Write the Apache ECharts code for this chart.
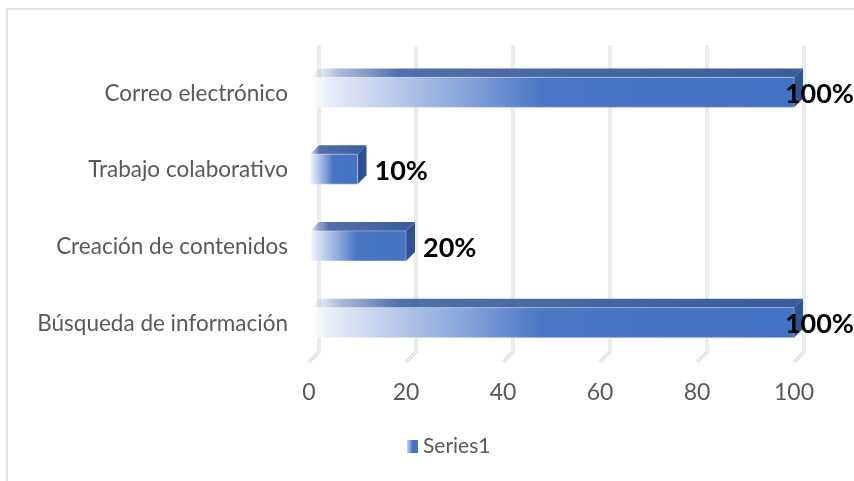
<!DOCTYPE html>
<html>
<head>
<meta charset="utf-8">
<script src="https://cdn.jsdelivr.net/npm/echarts@6/dist/echarts.min.js"></script>
<style>
  html, body { margin: 0; padding: 0; background: #ffffff; }
  #chart { width: 854px; height: 481px; }
</style>
</head>
<body>
<div id="chart"></div>
<script>
// Uso de herramientas digitales
const categories = ['Correo electrónico', 'Trabajo colaborativo', 'Creación de contenidos', 'Búsqueda de información'];
const values = [100, 10, 20, 100];
const ticks = [0, 20, 40, 60, 80, 100];
const seriesName = 'Series1';

const FONT = 'Lato, "Open Sans", sans-serif';
const DEPTH = 9;       // bar depth (3D offset)
const WALL = 10;       // offset from front plane to back wall
const BAR_H = 30;      // front face height

const measureCtx = document.createElement('canvas').getContext('2d');
function textWidth(str, font) {
  measureCtx.font = font;
  return measureCtx.measureText(str).width;
}

const frontGradient = new echarts.graphic.LinearGradient(0, 0, 1, 0, [
  { offset: 0, color: 'rgba(255,255,255,0.7)' },
  { offset: 0.04, color: '#e8eef8' },
  { offset: 0.2, color: '#b0c3e7' },
  { offset: 0.34, color: '#7f9fd8' },
  { offset: 0.48, color: '#4a76c5' },
  { offset: 1, color: '#4472c4' }
]);
const topGradient = new echarts.graphic.LinearGradient(0, 0, 1, 0, [
  { offset: 0, color: 'rgba(70,105,170,0)' },
  { offset: 0.06, color: 'rgba(70,105,170,0.45)' },
  { offset: 0.18, color: 'rgba(62,96,160,0.9)' },
  { offset: 1, color: '#3a5c9c' }
]);
const legendGradient = new echarts.graphic.LinearGradient(0, 0, 1, 0, [
  { offset: 0, color: '#c9d6ef' },
  { offset: 0.5, color: '#4472c4' },
  { offset: 1, color: '#4472c4' }
]);

const chart = echarts.init(document.getElementById('chart'), null, { renderer: 'canvas' });

chart.setOption({
  animation: false,
  backgroundColor: '#ffffff',
  graphic: [{
    type: 'rect',
    shape: { x: 7, y: 9, width: 900, height: 500 },
    style: { fill: 'none', stroke: '#d9d9d9', lineWidth: 1.5 },
    silent: true
  }],
  grid: { left: 309, right: 60, top: 55, bottom: 119 },
  legend: {
    data: [{ name: seriesName, icon: 'rect' }],
    left: 402,
    top: 431,
    itemWidth: 11,
    itemHeight: 13,
    itemGap: 4,
    textStyle: { color: '#595959', fontSize: 21, fontFamily: FONT }
  },
  xAxis: {
    type: 'value',
    min: 0,
    max: 100,
    interval: 20,
    axisLine: { show: false },
    axisTick: { show: false },
    splitLine: { show: false },
    axisLabel: { color: '#595959', fontSize: 23, fontFamily: FONT, margin: 19 }
  },
  yAxis: {
    type: 'category',
    data: categories,
    inverse: true,
    axisLine: { show: false },
    axisTick: { show: false },
    splitLine: { show: false },
    axisLabel: { color: '#595959', fontSize: 22.5, fontFamily: FONT, margin: 21 }
  },
  series: [
    {
      // back wall gridlines with their floor diagonals
      name: 'gridlines',
      type: 'custom',
      silent: true,
      z: 1,
      data: ticks.map(t => [t, 0]),
      encode: { x: 0, y: 1 },
      renderItem: function (params, api) {
        const cs = params.coordSys;
        const xf = api.coord([api.value(0), 0])[0];
        const xb = xf + WALL;
        const yTop = cs.y - WALL;
        const yFloor = cs.y + cs.height;
        const pts = [[xb, yTop], [xb, yFloor - WALL], [xf, yFloor]];
        return {
          type: 'group',
          children: [
            { type: 'polyline', shape: { points: pts }, style: { stroke: '#dadada', lineWidth: 3, fill: null } },
            { type: 'polyline', shape: { points: pts }, style: { stroke: '#ffffff', lineWidth: 1, fill: null } }
          ]
        };
      }
    },
    {
      name: seriesName,
      type: 'custom',
      z: 2,
      itemStyle: { color: legendGradient },
      data: values.map((v, i) => [v, i]),
      encode: { x: 0, y: 1 },
      renderItem: function (params, api) {
        const v = api.value(0);
        const c = api.value(1);
        const p0 = api.coord([0, c]);
        const p1 = api.coord([v, c]);
        const x0 = p0[0] + 1;
        const x1 = p1[0];
        const cy = p0[1] - 1;
        const top = cy - BAR_H / 2;
        const bottom = cy + BAR_H / 2;
        const d = DEPTH;

        const labelFont = 'bold 27px ' + FONT;
        const label = v + '%';
        const w = textWidth(label, labelFont);
        const lx = Math.min(x1 + 17, api.getWidth() - w);

        return {
          type: 'group',
          children: [
            {
              type: 'polygon',
              shape: { points: [[x0, top], [x1, top], [x1 + d, top - d], [x0 + d, top - d]] },
              style: { fill: topGradient }
            },
            {
              type: 'polygon',
              shape: { points: [[x1, top], [x1 + d, top - d], [x1 + d, bottom - d], [x1, bottom]] },
              style: { fill: '#2f5290' }
            },
            {
              type: 'rect',
              shape: { x: x0, y: top, width: x1 - x0, height: BAR_H },
              style: { fill: frontGradient, stroke: 'rgba(255,255,255,0.35)', lineWidth: 1 }
            },
            {
              type: 'text',
              z2: 10,
              style: {
                text: label,
                x: lx,
                y: cy + 2,
                align: 'left',
                verticalAlign: 'middle',
                font: labelFont,
                fill: '#000000'
              }
            }
          ]
        };
      }
    }
  ]
});
</script>
</body>
</html>
